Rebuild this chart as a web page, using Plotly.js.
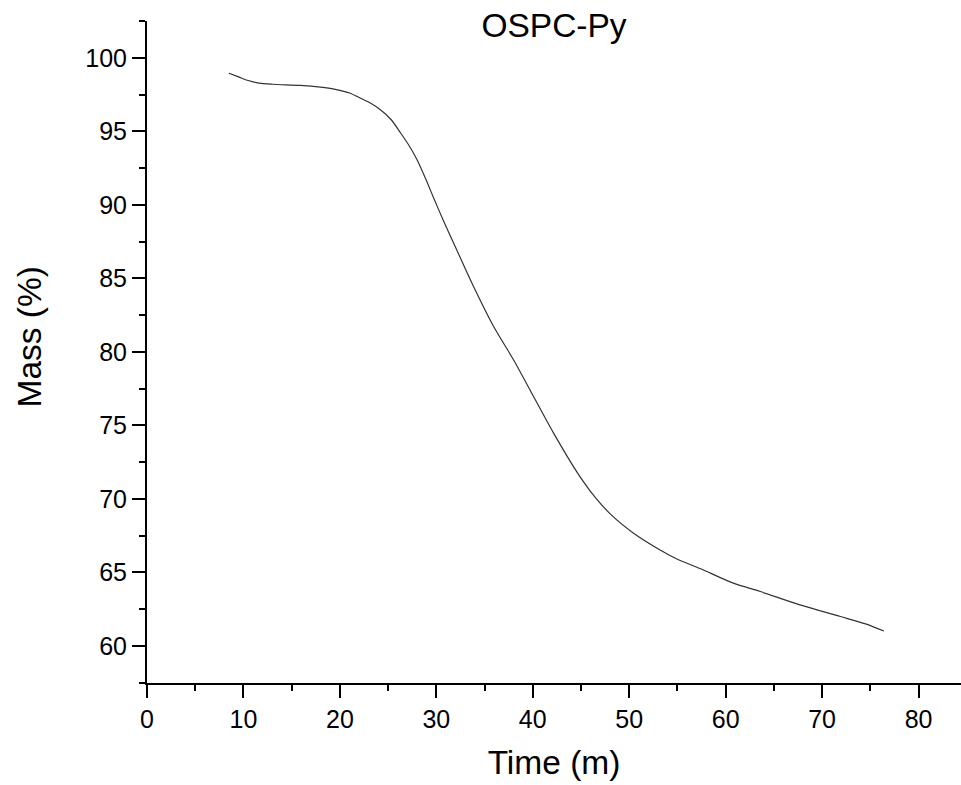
<!DOCTYPE html>
<html>
<head>
<meta charset="utf-8">
<script src="https://cdn.plot.ly/plotly-3.0.1.min.js"></script>
<style>html,body{margin:0;padding:0;background:#fff;}#chart{width:961px;height:785px;}</style>
</head>
<body>
<div id="chart"></div>
<script>
const chartTitle = "OSPC-Py";
const xTitle = "Time (m)";
const yTitle = "Mass (%)";
const timeMin = [8.5, 9.5, 10.5, 11.6, 13.0, 15.9, 18.0, 19.4, 21.0, 22.1, 23.2, 24.2, 25.3, 26.3, 27.2, 28.0, 29.0, 29.7, 30.75, 31.8, 33.86, 35.94, 38.0, 40.08, 42.16, 44.6, 46.0, 48.0, 50.45, 53.2, 55.0, 57.4, 60.8, 63.6, 67.7, 71.9, 74.5, 76.4];
const massPct = [98.95, 98.7, 98.45, 98.28, 98.2, 98.12, 98.0, 97.87, 97.6, 97.26, 96.9, 96.46, 95.8, 94.88, 94.0, 93.06, 91.6, 90.5, 88.9, 87.39, 84.44, 81.72, 79.46, 76.96, 74.47, 71.8, 70.5, 69.0, 67.67, 66.53, 65.9, 65.25, 64.27, 63.7, 62.79, 62.0, 61.5, 61.02];
const xTicks = [0, 10, 20, 30, 40, 50, 60, 70, 80];
const yTicks = [60, 65, 70, 75, 80, 85, 90, 95, 100];

const font = "Liberation Sans, Arial, sans-serif";
const trace = {
  x: timeMin, y: massPct, type: "scatter", mode: "lines",
  line: {color: "#333333", width: 1.2, shape: "spline", smoothing: 0.8},
  hoverinfo: "skip"
};
const layout = {
  width: 961, height: 785,
  margin: {l: 147, r: 0, t: 21, b: 102},
  paper_bgcolor: "#ffffff", plot_bgcolor: "#ffffff",
  showlegend: false,
  font: {family: font, color: "#000"},
  title: {text: chartTitle, font: {family: font, size: 33.5, color: "#000"}, x: 0.5, xref: "paper", y: 1 - 25/785, yref: "container", yanchor: "middle"},
  xaxis: {
    range: [0, 84.4], tickvals: xTicks, ticktext: xTicks.map(String),
    showgrid: false, zeroline: false, showline: true, linecolor: "#000", linewidth: 2,
    ticks: "outside", ticklen: 13, tickwidth: 2, tickcolor: "#000",
    tickfont: {family: font, size: 25, color: "#000"},
    minor: {dtick: 5, tick0: 0, ticks: "outside", ticklen: 6, tickwidth: 2, tickcolor: "#000", showgrid: false},
    title: {text: xTitle, font: {family: font, size: 33.5, color: "#000"}, standoff: 19}
  },
  yaxis: {
    range: [57.48, 102.5], tickvals: yTicks, ticktext: yTicks.map(String),
    showgrid: false, zeroline: false, showline: true, linecolor: "#000", linewidth: 2,
    ticks: "outside", ticklen: 13, tickwidth: 2, tickcolor: "#000",
    tickfont: {family: font, size: 25, color: "#000"},
    minor: {dtick: 2.5, tick0: 0, ticks: "outside", ticklen: 6, tickwidth: 2, tickcolor: "#000", showgrid: false}
  },
  annotations: [{
    text: yTitle, textangle: -90, showarrow: false,
    xref: "paper", x: 0, xanchor: "center", xshift: -118.5,
    yref: "paper", y: (683 - 337) / 662, yanchor: "middle",
    font: {family: font, size: 33.5, color: "#000"}
  }]
};
Plotly.newPlot("chart", [trace], layout, {displayModeBar: false, staticPlot: true});
</script>
</body>
</html>
